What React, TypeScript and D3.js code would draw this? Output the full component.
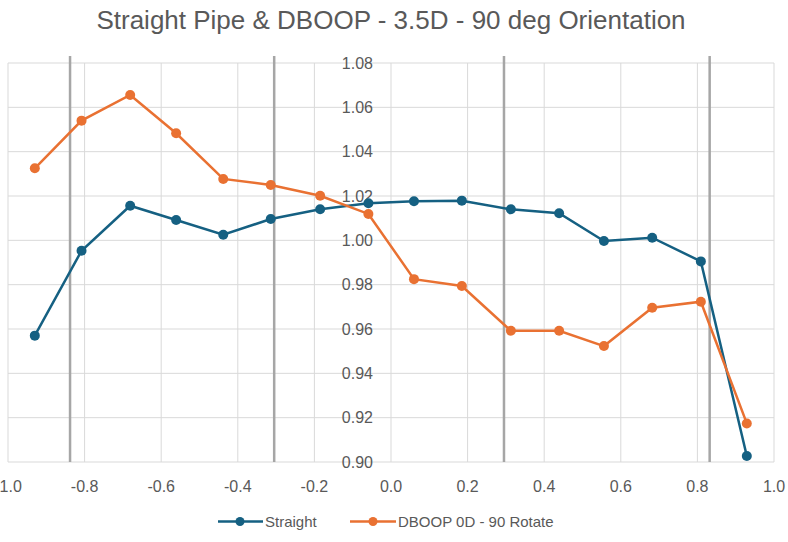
import React from "react";
import * as d3 from "d3";

const xPos = [-0.930, -0.808, -0.681, -0.561, -0.438, -0.314, -0.185, -0.059, 0.060, 0.185, 0.313, 0.439, 0.556, 0.682, 0.809, 0.929];
const straight = [0.957, 0.9953, 1.0156, 1.0092, 1.0025, 1.0096, 1.014, 1.0167, 1.0176, 1.0179, 1.014, 1.0122, 0.9997, 1.0012, 0.9905, 0.9027];
const dboop = [1.0325, 1.054, 1.0656, 1.0483, 1.0277, 1.025, 1.0201, 1.0119, 0.9825, 0.9794, 0.9592, 0.9592, 0.9523, 0.9696, 0.9723, 0.9174];
const markerLines = [-0.838, -0.305, 0.295, 0.832];
const xTicks = [-1.0, -0.8, -0.6, -0.4, -0.2, 0.0, 0.2, 0.4, 0.6, 0.8, 1.0];
const yTicks = [0.90, 0.92, 0.94, 0.96, 0.98, 1.00, 1.02, 1.04, 1.06, 1.08];
const seriesNames = ["Straight", "DBOOP 0D - 90 Rotate"];
const colors = ["#156082", "#E97132"];

export default function App() {
  const W = 788, H = 542;
  const x = d3.scaleLinear().domain([-1, 1]).range([8, 774]);
  const y = d3.scaleLinear().domain([0.9, 1.08]).range([462, 63]);
  const line = d3.line<number>().x((_, i) => x(xPos[i])).y((d) => y(d));
  const series = [straight, dboop];
  const font = "'Liberation Sans', Arial, sans-serif";
  return (
    <svg width={W} height={H} style={{ position: "absolute", left: 0, top: 0, background: "#fff" }} fontFamily={font}>
      <text x={391} y={28.5} textAnchor="middle" fontSize={26} fill="#595959">
        Straight Pipe &amp; DBOOP - 3.5D  - 90 deg Orientation
      </text>
      {yTicks.map((t) => (
        <line key={"gy" + t} x1={x(-1)} x2={x(1)} y1={y(t)} y2={y(t)} stroke="#D9D9D9" strokeWidth={1} />
      ))}
      {xTicks.map((t) => (
        <line key={"gx" + t} x1={x(t)} x2={x(t)} y1={y(0.9)} y2={y(1.08)} stroke="#D9D9D9" strokeWidth={1} />
      ))}
      {markerLines.map((m) => (
        <line key={"m" + m} x1={x(m)} x2={x(m)} y1={y(0.9)} y2={y(1.0832)} stroke="#A6A6A6" strokeWidth={2.5} />
      ))}
      {yTicks.map((t) => (
        <text key={"ly" + t} x={x(0) - 18} y={y(t)} dy="0.36em" textAnchor="end" fontSize={16} fill="#595959">
          {t.toFixed(2)}
        </text>
      ))}
      {xTicks.map((t) => (
        <text key={"lx" + t} x={x(t)} y={492} textAnchor="middle" fontSize={16} fill="#595959">
          {t.toFixed(1)}
        </text>
      ))}
      {series.map((s, si) => (
        <g key={"s" + si}>
          <path d={line(s) || ""} fill="none" stroke={colors[si]} strokeWidth={2.5} />
          {s.map((v, i) => (
            <circle key={i} cx={x(xPos[i])} cy={y(v)} r={5} fill={colors[si]} />
          ))}
        </g>
      ))}
      <g>
        <line x1={218} x2={263} y1={521.5} y2={521.5} stroke={colors[0]} strokeWidth={2.5} />
        <circle cx={240} cy={521.5} r={4.5} fill={colors[0]} />
        <text x={265} y={521.5} dy="0.36em" fontSize={15} fill="#595959">{seriesNames[0]}</text>
        <line x1={350} x2={396} y1={521.5} y2={521.5} stroke={colors[1]} strokeWidth={2.5} />
        <circle cx={373} cy={521.5} r={4.5} fill={colors[1]} />
        <text x={398} y={521.5} dy="0.36em" fontSize={15} fill="#595959">{seriesNames[1]}</text>
      </g>
    </svg>
  );
}
